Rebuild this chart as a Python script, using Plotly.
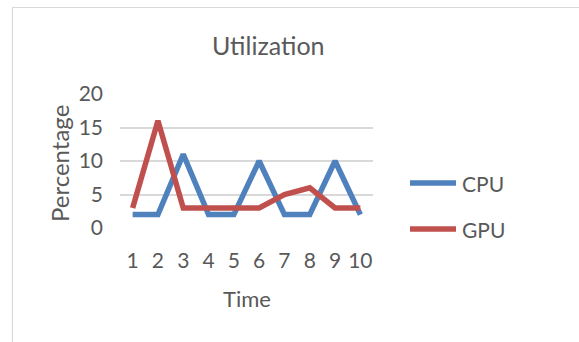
import plotly.graph_objects as go

# Sampled utilization per time step
time_steps = [1, 2, 3, 4, 5, 6, 7, 8, 9, 10]
cpu_util = [2, 2, 11, 2, 2, 10, 2, 2, 10, 2]
gpu_util = [3, 16, 3, 3, 3, 3, 5, 6, 3, 3]
y_ticks = [0, 5, 10, 15, 20]

series_names = ["CPU", "GPU"]
series_colors = ["#4F81BD", "#C0504D"]

W, H = 579, 342
ML, MR, MT, MB = 120, 206, 94, 114
PW, PH = W - ML - MR, H - MT - MB
FONT = "Lato"
TEXT = "#595959"


def px_x(p):
    return (p - ML) / PW


def px_y(p):
    return (H - MB - p) / PH


fig = go.Figure()
for name, vals, col in zip(series_names, [cpu_util, gpu_util], series_colors):
    fig.add_trace(go.Scatter(
        x=[str(t) for t in time_steps], y=vals, mode="lines", name=name,
        line=dict(color=col, width=5.5), showlegend=False, cliponaxis=False,
    ))

# Legend drawn as line samples with labels on the right
legend_y = [183, 229]
for name, col, ly in zip(series_names, series_colors, legend_y):
    fig.add_shape(type="line", xref="paper", yref="paper",
                  x0=px_x(410), x1=px_x(456), y0=px_y(ly), y1=px_y(ly),
                  line=dict(color=col, width=5.5))
    fig.add_annotation(text=name, xref="paper", yref="paper", x=px_x(460), y=px_y(ly),
                       xanchor="left", yanchor="middle", showarrow=False,
                       font=dict(family=FONT, size=21, color=TEXT))

# Chart area border
fig.add_shape(type="rect", xref="paper", yref="paper",
              x0=px_x(12.5), x1=px_x(W + 20), y0=px_y(7.5), y1=px_y(H + 20),
              line=dict(color="#D9D9D9", width=1.2), fillcolor="rgba(0,0,0,0)", layer="below")

fig.add_annotation(text="Utilization", xref="paper", yref="paper", x=px_x(268), y=px_y(45),
                   xanchor="center", yanchor="middle", showarrow=False,
                   font=dict(family=FONT, size=25, color=TEXT))
fig.add_annotation(text="Percentage", xref="paper", yref="paper", x=px_x(59), y=px_y(164),
                   xanchor="center", yanchor="middle", showarrow=False, textangle=-90,
                   font=dict(family=FONT, size=24, color=TEXT))
fig.add_annotation(text="Time", xref="paper", yref="paper", x=px_x(247), y=px_y(298),
                   xanchor="center", yanchor="middle", showarrow=False,
                   font=dict(family=FONT, size=22, color=TEXT))

fig.update_layout(
    width=W, height=H,
    margin=dict(l=ML, r=MR, t=MT, b=MB),
    paper_bgcolor="white", plot_bgcolor="white",
    font=dict(family=FONT, size=20, color=TEXT),
)
fig.update_xaxes(type="category", range=[-0.5, len(time_steps) - 0.5], showgrid=False,
                 zeroline=False, showline=False, ticks="", ticklabelstandoff=18,
                 tickfont=dict(size=21, color=TEXT))
fig.update_yaxes(range=[0, 20], tickvals=y_ticks, showgrid=True, gridcolor="#D9D9D9",
                 gridwidth=1.5, zeroline=False, showline=False, ticks="",
                 ticklabelstandoff=16, tickfont=dict(size=21, color=TEXT))

fig.write_html("out.html")
